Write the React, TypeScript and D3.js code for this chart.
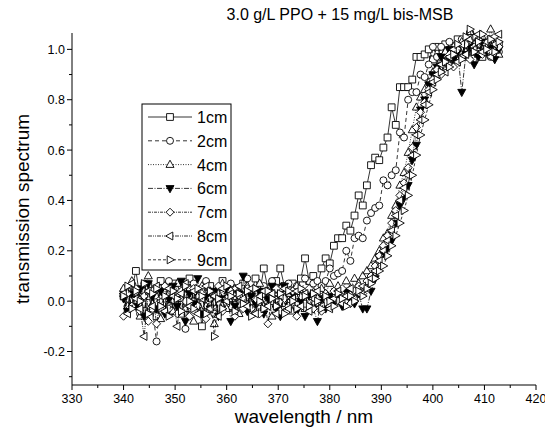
import * as d3 from "d3";

const W = 545, H = 427;
const PLOT = { left: 72, right: 536, top: 33, bottom: 385 };
const FONT = "Arial, 'Liberation Sans', sans-serif";

const TITLE = "3.0 g/L PPO + 15 mg/L bis-MSB";
const X_LABEL = "wavelength / nm";
const Y_LABEL = "transmission spectrum";

const X_DOMAIN = [330, 420];
const Y_DOMAIN = [-0.333, 1.065];
const X_TICKS = [330, 340, 350, 360, 370, 380, 390, 400, 410, 420];
const X_MINOR = [335, 345, 355, 365, 375, 385, 395, 405, 415];
const Y_TICKS = [-0.2, 0.0, 0.2, 0.4, 0.6, 0.8, 1.0];
const Y_MINOR = [-0.3, -0.1, 0.1, 0.3, 0.5, 0.7, 0.9];

const WAVELENGTH = [
  340, 340.8, 341.6, 342.4, 343.2, 344, 344.8, 345.6, 346.4, 347.2,
  348, 348.8, 349.6, 350.4, 351.2, 352, 352.8, 353.6, 354.4, 355.2,
  356, 356.8, 357.6, 358.4, 359.2, 360, 360.8, 361.6, 362.4, 363.2,
  364, 364.8, 365.6, 366.4, 367.2, 368, 368.8, 369.6, 370.4, 371.2,
  372, 372.8, 373.6, 374.4, 375.2, 376, 376.8, 377.6, 378.4, 379.2,
  380, 380.8, 381.6, 382.4, 383.2, 384, 384.8, 385.6, 386.4, 387.2,
  388, 388.8, 389.6, 390.4, 391.2, 392, 392.8, 393.6, 394.4, 395.2,
  396, 396.8, 397.6, 398.4, 399.2, 400, 400.8, 401.6, 402.4, 403.2,
  404, 404.8, 405.6, 406.4, 407.2, 408, 408.8, 409.6, 410.4, 411.2,
  412, 412.8,
];

const T_1CM = [
  0.02, -0.03, 0.05, 0.12, 0.01, -0.04, 0.06, 0.03, -0.06, 0.08,
  0.04, -0.02, 0.07, 0.02, -0.05, 0.05, 0.09, 0.0, 0.04, -0.1,
  0.03, 0.06, -0.03, 0.02, 0.08, 0.04, -0.02, 0.05, 0.01, 0.07,
  -0.01, 0.04, 0.09, 0.03, 0.13, 0.05, 0.0, 0.08, 0.13, 0.06,
  0.02, 0.07, 0.04, 0.09, 0.17, 0.08, 0.1, 0.06, 0.13, 0.17,
  0.15, 0.22, 0.25, 0.25, 0.3, 0.28, 0.34, 0.42, 0.38, 0.46,
  0.54, 0.57, 0.56, 0.61, 0.65, 0.77, 0.7, 0.85, 0.85, 0.85,
  0.88, 0.97, 0.97, 0.98, 1.0, 0.96, 1.01, 0.97, 1.02, 0.95,
  0.99, 1.04, 0.98, 1.03, 1.06, 0.99, 1.02, 0.97, 1.01, 1.04,
  0.98, 1.02,
];

const T_2CM = [
  0.04, -0.02, 0.06, 0.0, -0.05, 0.07, 0.02, -0.03, -0.16, 0.05,
  0.01, 0.08, -0.04, 0.03, 0.06, -0.11, 0.02, 0.07, -0.02, 0.04,
  0.08, 0.01, -0.05, 0.05, 0.03, -0.01, 0.07, 0.02, -0.04, 0.05,
  0.09, 0.0, 0.04, -0.03, 0.06, 0.02, 0.08, -0.02, 0.05, 0.03,
  0.07, 0.01, 0.06, 0.03, 0.09, 0.04, 0.07, 0.08, 0.06, 0.08,
  0.13, 0.1, 0.11, 0.12, 0.2, 0.16, 0.25, 0.26, 0.25, 0.32,
  0.35, 0.37, 0.38, 0.48, 0.46, 0.5, 0.52, 0.67, 0.65, 0.8,
  0.83, 0.83, 0.9, 0.89, 0.94, 1.01, 0.97, 1.01, 0.98, 1.03,
  0.96, 1.0, 1.04, 0.97, 1.02, 1.05, 0.99, 1.03, 1.0, 0.97,
  1.03, 0.99,
];

const T_4CM = [
  0.05, -0.02, 0.08, 0.03, -0.06, 0.04, 0.1, -0.01, 0.02, -0.07,
  0.06, 0.03, -0.04, 0.07, 0.01, -0.03, 0.05, -0.08, 0.02, 0.06,
  -0.02, 0.04, -0.09, 0.03, 0.07, -0.03, 0.01, 0.05, -0.05, 0.02,
  0.06, -0.04, 0.03, 0.07, -0.02, 0.04, -0.06, 0.02, 0.05, -0.01,
  0.03, -0.04, 0.06, 0.01, -0.03, 0.04, 0.02, -0.02, 0.05, 0.03,
  0.07, 0.02, 0.06, 0.04, 0.08, 0.05, 0.09, 0.07, 0.1, 0.12,
  0.14, 0.17, 0.2, 0.25, 0.27, 0.34, 0.38, 0.46, 0.51, 0.59,
  0.68, 0.77, 0.81, 0.84, 0.87, 0.91, 0.93, 0.96, 0.99, 0.94,
  1.01, 0.97, 1.03, 0.99, 1.07, 1.02, 0.98, 1.05, 1.01, 1.08,
  1.02, 0.98,
];

const T_6CM = [
  0.01, -0.04, 0.03, -0.02, 0.05, -0.06, 0.07, 0.02, -0.03, 0.04,
  -0.05, 0.01, 0.06, -0.02, 0.08, -0.08, 0.03, -0.01, 0.09, -0.05,
  0.02, -0.03, 0.04, -0.06, 0.01, 0.05, -0.08, -0.02, 0.03, 0.1,
  -0.04, 0.02, -0.01, 0.04, -0.05, 0.01, 0.06, -0.03, -0.06, 0.06,
  -0.02, 0.03, -0.04, 0.0, -0.06, 0.02, -0.03, -0.08, 0.01, -0.03,
  0.02, -0.01, 0.03, -0.02, 0.04, 0.01, -0.01, 0.03, -0.03, -0.03,
  0.04, 0.09, 0.17, 0.19, 0.21, 0.24, 0.31, 0.38, 0.41, 0.46,
  0.56, 0.62, 0.76, 0.8, 0.86, 0.9, 0.93, 0.97, 0.95, 1.0,
  0.96, 0.99, 0.83, 0.98, 1.01, 0.94, 0.97, 1.03, 0.99, 1.01,
  0.96, 1.0,
];

const T_7CM = [
  -0.06, 0.03, -0.02, 0.05, -0.04, 0.02, -0.08, 0.04, -0.09, 0.01,
  0.06, -0.03, 0.03, -0.05, 0.04, 0.0, -0.06, 0.05, -0.02, 0.03,
  -0.07, -0.03, 0.02, 0.06, -0.04, 0.01, 0.04, -0.06, 0.02, -0.03,
  0.05, -0.03, 0.01, -0.05, 0.03, -0.09, 0.02, 0.05, -0.04, 0.01,
  -0.02, 0.04, -0.06, 0.02, -0.01, 0.05, -0.03, 0.01, -0.04, 0.03,
  -0.02, 0.04, 0.0, 0.05, 0.02, -0.01, 0.04, 0.06, 0.03, 0.08,
  0.1, 0.14, 0.18, 0.22, 0.26, 0.31, 0.36, 0.42, 0.47, 0.53,
  0.61, 0.69, 0.75, 0.79, 0.84, 0.88, 0.92, 0.9, 0.95, 0.98,
  0.93, 1.0, 0.97, 1.02, 0.96, 1.01, 1.04, 0.98, 1.02, 0.99,
  1.05, 1.01,
];

const T_8CM = [
  0.03, -0.05, 0.07, 0.01, -0.03, -0.14, 0.04, -0.02, 0.06, 0.0,
  -0.04, 0.05, 0.02, -0.1, 0.03, 0.07, -0.02, 0.04, -0.05, 0.01,
  0.06, -0.03, 0.02, -0.06, 0.05, 0.0, 0.03, -0.04, 0.06, 0.01,
  -0.02, 0.05, -0.05, 0.02, 0.04, -0.02, 0.03, -0.05, 0.02, 0.05,
  -0.03, 0.01, 0.04, -0.02, 0.03, -0.04, 0.01, 0.04, -0.02, 0.02,
  -0.03, 0.01, 0.04, -0.01, 0.02, 0.05, 0.01, 0.03, 0.06, 0.05,
  0.09, 0.12, 0.16, 0.2, 0.24, 0.28, 0.34, 0.4, 0.45, 0.5,
  0.58, 0.66, 0.72, 0.78, 0.83, 0.87, 0.9, 0.94, 0.91, 0.97,
  1.0, 0.95, 1.02, 0.98, 1.04, 1.0, 1.06, 0.99, 1.03, 0.97,
  1.02, 1.06,
];

const T_9CM = [
  0.02, 0.06, -0.03, 0.04, 0.0, 0.07, -0.05, 0.03, 0.05, -0.02,
  0.02, -0.06, 0.04, 0.01, -0.04, 0.06, 0.0, -0.03, 0.05, 0.02,
  -0.05, 0.04, -0.14, 0.01, -0.03, 0.06, 0.02, -0.04, 0.03, -0.01,
  0.04, -0.06, 0.05, 0.0, -0.03, 0.04, 0.01, -0.02, 0.03, -0.05,
  0.04, 0.0, -0.03, 0.05, 0.02, -0.02, 0.03, 0.0, -0.03, 0.02,
  0.0, -0.02, 0.03, 0.01, -0.02, 0.02, 0.0, 0.04, 0.02, 0.05,
  0.07, 0.09, 0.12, 0.14, 0.18, 0.22, 0.26, 0.31, 0.36, 0.42,
  0.5, 0.58, 0.66, 0.72, 0.78, 0.84, 0.88, 0.91, 0.95, 0.93,
  0.98, 1.02, 0.96, 1.05, 1.08, 0.99, 1.03, 1.06, 1.0, 1.04,
  0.99, 1.03,
];

type Marker = "square" | "circle" | "up" | "down" | "diamond" | "left" | "right";

const SERIES: { name: string; values: number[]; marker: Marker; dash: string }[] = [
  { name: "1cm", values: T_1CM, marker: "square", dash: "none" },
  { name: "2cm", values: T_2CM, marker: "circle", dash: "4,3" },
  { name: "4cm", values: T_4CM, marker: "up", dash: "1,1.5" },
  { name: "6cm", values: T_6CM, marker: "down", dash: "5,1.5,1,1.5" },
  { name: "7cm", values: T_7CM, marker: "diamond", dash: "3,1,1,1" },
  { name: "8cm", values: T_8CM, marker: "left", dash: "4,1,1,1,1,1" },
  { name: "9cm", values: T_9CM, marker: "right", dash: "3,2" },
];

function markerPath(kind: Marker): string {
  const r = 4;
  switch (kind) {
    case "square":
      return `M-3.4,-3.4h6.8v6.8h-6.8Z`;
    case "up":
      return `M0,${-r * 1.1}L${r},${r * 0.7}L${-r},${r * 0.7}Z`;
    case "down":
      return `M0,${r * 1.1}L${r},${-r * 0.7}L${-r},${-r * 0.7}Z`;
    case "diamond":
      return `M0,${-r}L${r},0L0,${r}L${-r},0Z`;
    case "left":
      return `M${-r * 1.1},0L${r * 0.7},${-r}L${r * 0.7},${r}Z`;
    case "right":
      return `M${r * 1.1},0L${-r * 0.7},${-r}L${-r * 0.7},${r}Z`;
    default:
      return "";
  }
}

function Symbol({ kind, x, y }: { kind: Marker; x: number; y: number }) {
  const fill = kind === "down" ? "#000" : "#fff";
  if (kind === "circle") {
    return <circle cx={x} cy={y} r={3.5} fill={fill} stroke="#000" strokeWidth={0.9} />;
  }
  return (
    <path d={markerPath(kind)} transform={`translate(${x},${y})`}
      fill={fill} stroke="#000" strokeWidth={0.9} />
  );
}

export default function App() {
  const x = d3.scaleLinear(X_DOMAIN, [PLOT.left, PLOT.right]);
  const y = d3.scaleLinear(Y_DOMAIN, [PLOT.bottom, PLOT.top]);
  const line = d3.line<number>()
    .x((_, i) => x(WAVELENGTH[i]))
    .y((d) => y(d));

  const legend = { x: 142, y: 104, w: 89, h: 166, row0: 117, step: 23.8 };

  return (
    <svg width={W} height={H} style={{ position: "absolute", left: 0, top: 0, background: "#fff" }}>
      {/* title */}
      <text x={340} y={20} textAnchor="middle" fontSize={16} fontFamily={FONT}>{TITLE}</text>

      {/* data */}
      {SERIES.map((s) => (
        <g key={s.name}>
          <path d={line(s.values) ?? ""} fill="none" stroke="#000" strokeWidth={0.8}
            strokeDasharray={s.dash === "none" ? undefined : s.dash} />
          {s.values.map((v, i) => (
            <Symbol key={i} kind={s.marker} x={x(WAVELENGTH[i])} y={y(v)} />
          ))}
        </g>
      ))}

      {/* axes */}
      <line x1={PLOT.left} y1={PLOT.top} x2={PLOT.left} y2={PLOT.bottom} stroke="#000" />
      <line x1={PLOT.left} y1={PLOT.bottom} x2={PLOT.right} y2={PLOT.bottom} stroke="#000" />
      {Y_TICKS.map((t) => (
        <g key={t}>
          <line x1={PLOT.left - 5} x2={PLOT.left} y1={y(t)} y2={y(t)} stroke="#000" />
          <text x={PLOT.left - 7} y={y(t) + 4.5} textAnchor="end" fontSize={12.5} fontFamily={FONT}>
            {t.toFixed(1)}
          </text>
        </g>
      ))}
      {Y_MINOR.map((t) => (
        <line key={t} x1={PLOT.left - 3} x2={PLOT.left} y1={y(t)} y2={y(t)} stroke="#000" />
      ))}
      {X_TICKS.map((t) => (
        <g key={t}>
          <line x1={x(t)} x2={x(t)} y1={PLOT.bottom} y2={PLOT.bottom + 5} stroke="#000" />
          <text x={x(t)} y={PLOT.bottom + 18} textAnchor="middle" fontSize={12.5} fontFamily={FONT}>
            {t}
          </text>
        </g>
      ))}
      {X_MINOR.map((t) => (
        <line key={t} x1={x(t)} x2={x(t)} y1={PLOT.bottom} y2={PLOT.bottom + 3} stroke="#000" />
      ))}

      {/* axis titles */}
      <text x={(PLOT.left + PLOT.right) / 2} y={423} textAnchor="middle" fontSize={19} fontFamily={FONT}>
        {X_LABEL}
      </text>
      <text transform={`translate(29,${(PLOT.top + PLOT.bottom) / 2}) rotate(-90)`} textAnchor="middle"
        fontSize={19} fontFamily={FONT}>
        {Y_LABEL}
      </text>

      {/* legend */}
      <rect x={legend.x} y={legend.y} width={legend.w} height={legend.h} fill="#fff" stroke="#000" />
      {SERIES.map((s, i) => {
        const ry = legend.row0 + i * legend.step;
        return (
          <g key={s.name}>
            <line x1={legend.x + 6} x2={legend.x + 50} y1={ry} y2={ry} stroke="#000" strokeWidth={0.8}
              strokeDasharray={s.dash === "none" ? undefined : s.dash} />
            <Symbol kind={s.marker} x={legend.x + 28} y={ry} />
            <text x={legend.x + 55} y={ry + 6} fontSize={16} fontFamily={FONT}>{s.name}</text>
          </g>
        );
      })}
    </svg>
  );
}
